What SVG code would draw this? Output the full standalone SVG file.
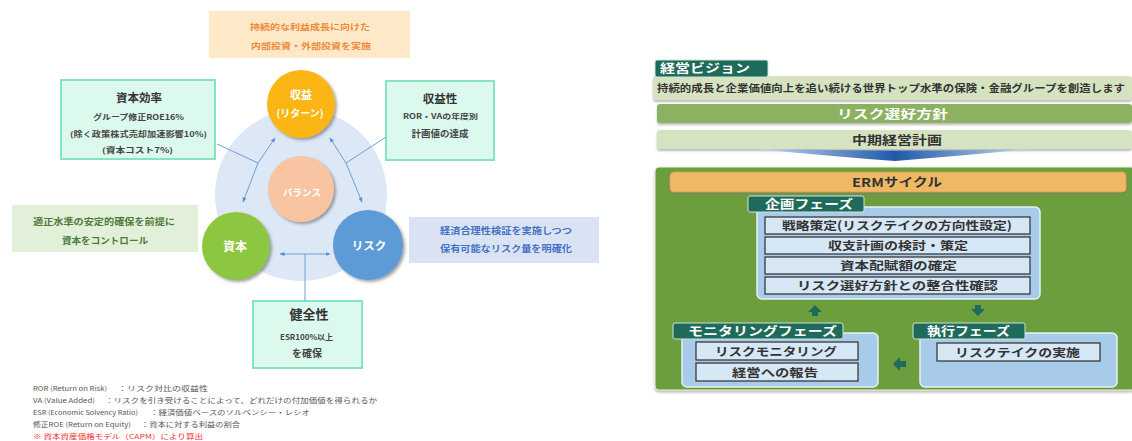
<svg xmlns="http://www.w3.org/2000/svg" width="1132" height="441" viewBox="0 0 1132 441">
<style>
text{font-family:"Noto Sans CJK JP","Noto Sans",sans-serif;}
.c{text-anchor:middle;}
.b{font-weight:bold;}
.aq{fill:#dcf9ee;stroke:#86e3c6;stroke-width:2;}
.ln{stroke:#6f9fd8;stroke-width:1;fill:none;}
.tab{fill:#1f6b5b;stroke:#cfe3d8;stroke-width:1;}
.tabt{fill:#fff;font-size:12px;font-weight:bold;}
.item{fill:#d6e7f6;stroke:#3a3a3a;stroke-width:1.3;}
.itemt{fill:#333;font-size:11.5px;font-weight:bold;}
.panel{fill:#a9cbea;stroke:#e6f0f8;stroke-width:1.5;}
.fn{font-size:6.5px;fill:#555;}
</style>
<defs>
<filter id="sh" x="-30%" y="-30%" width="160%" height="160%">
<feDropShadow dx="2" dy="2" stdDeviation="1.5" flood-color="#555" flood-opacity="0.55"/>
</filter>
<filter id="sh2" x="-10%" y="-20%" width="120%" height="150%">
<feDropShadow dx="0" dy="2" stdDeviation="1.2" flood-color="#777" flood-opacity="0.5"/>
</filter>
<marker id="ah" viewBox="0 0 10 10" refX="9" refY="5" markerWidth="5" markerHeight="5" orient="auto">
<path d="M0,1 L10,5 L0,9 Z" fill="#5b8fd0"/>
</marker>
<linearGradient id="chev" x1="0" y1="0" x2="1" y2="0">
<stop offset="0" stop-color="#c9d9ee"/>
<stop offset="0.5" stop-color="#1f5aa8"/>
<stop offset="1" stop-color="#c9d9ee"/>
</linearGradient>
</defs>
<rect width="1132" height="441" fill="#fff"/>

<!-- LEFT DIAGRAM -->
<g id="bg-circle"><circle cx="301" cy="195" r="86" fill="#dce8f5"/></g>

<g id="top-note">
<rect x="209" y="11" width="201" height="47" fill="#fde9c8"/>
<text x="250" y="30" class="b" font-size="8.5" fill="#f08a3c" textLength="120" lengthAdjust="spacingAndGlyphs">持続的な利益成長に向けた</text>
<text x="251" y="49" class="b" font-size="8.5" fill="#f08a3c" textLength="120" lengthAdjust="spacingAndGlyphs">内部投資・外部投資を実施</text>
</g>

<g id="capital-efficiency">
<rect x="61" y="80" width="154" height="79" class="aq"/>
<text x="139" y="102" class="c b" font-size="11.5" fill="#333">資本効率</text>
<text x="93" y="120" class="b" font-size="7.5" fill="#444" textLength="91" lengthAdjust="spacingAndGlyphs">グループ修正ROE16%</text>
<text x="70" y="137" class="b" font-size="7.5" fill="#444" textLength="137" lengthAdjust="spacingAndGlyphs">(除く政策株式売却加速影響10%)</text>
<text x="102" y="153" class="b" font-size="7.5" fill="#444" textLength="71" lengthAdjust="spacingAndGlyphs">(資本コスト7%)</text>
</g>

<g id="profitability">
<rect x="386" y="81" width="108" height="79" class="aq"/>
<text x="440" y="103" class="c b" font-size="11.5" fill="#333">収益性</text>
<text x="403" y="119" class="b" font-size="7" fill="#444" textLength="75" lengthAdjust="spacingAndGlyphs">ROR・VAの年度別</text>
<text x="440" y="137" class="c b" font-size="9.5" fill="#444">計画値の達成</text>
</g>

<g id="soundness">
<rect x="253" y="301" width="109" height="67" class="aq"/>
<text x="309" y="319" class="c b" font-size="13" fill="#333">健全性</text>
<text x="280" y="340" class="b" font-size="7.5" fill="#444" textLength="53" lengthAdjust="spacingAndGlyphs">ESR100%以上</text>
<text x="307" y="357" class="c b" font-size="10" fill="#444">を確保</text>
</g>

<g id="capital-note">
<rect x="12" y="205" width="186" height="47" fill="#e2efd9"/>
<text x="33" y="225" class="b" font-size="9" fill="#4e7a3c" textLength="142" lengthAdjust="spacingAndGlyphs">適正水準の安定的確保を前提に</text>
<text x="62" y="244" class="b" font-size="9" fill="#4e7a3c" textLength="86" lengthAdjust="spacingAndGlyphs">資本をコントロール</text>
</g>

<g id="risk-note">
<rect x="409" y="217" width="190" height="46" fill="#dae3f3"/>
<text x="440" y="234" class="b" font-size="9" fill="#4472c4" textLength="132" lengthAdjust="spacingAndGlyphs">経済合理性検証を実施しつつ</text>
<text x="440" y="252" class="b" font-size="9" fill="#4472c4" textLength="132" lengthAdjust="spacingAndGlyphs">保有可能なリスク量を明確化</text>
</g>

<g id="connectors">
<polyline class="ln" points="217,144 258,163"/>
<line class="ln" x1="258" y1="163" x2="275" y2="138" marker-end="url(#ah)"/>
<line class="ln" x1="258" y1="163" x2="243" y2="202" marker-end="url(#ah)"/>
<polyline class="ln" points="386,137 346,163"/>
<line class="ln" x1="346" y1="163" x2="330" y2="138" marker-end="url(#ah)"/>
<line class="ln" x1="346" y1="163" x2="362" y2="202" marker-end="url(#ah)"/>
<line class="ln" x1="305" y1="301" x2="305" y2="254"/>
<line class="ln" x1="305" y1="254" x2="280" y2="254" marker-end="url(#ah)"/>
<line class="ln" x1="305" y1="254" x2="330" y2="254" marker-end="url(#ah)"/>
</g>

<g id="return">
<circle cx="301" cy="104" r="34" fill="#fbb616" filter="url(#sh)"/>
<text x="301" y="99" class="c b" font-size="11" fill="#fff">収益</text>
<text x="300" y="117" class="c b" font-size="10" fill="#fff">(リターン)</text>
</g>
<g id="balance">
<circle cx="301" cy="189" r="33" fill="#f8c4a2" filter="url(#sh)"/>
<text x="302" y="196" class="c b" font-size="9.5" fill="#fff">バランス</text>
</g>
<g id="capital">
<circle cx="236" cy="246" r="34" fill="#8dc63f" filter="url(#sh)"/>
<text x="235" y="251" class="c b" font-size="12" fill="#fff">資本</text>
</g>
<g id="risk">
<circle cx="368" cy="245" r="35" fill="#5b9bd5" filter="url(#sh)"/>
<text x="369" y="250" class="c b" font-size="11.5" fill="#fff">リスク</text>
</g>

<g id="footnotes">
<text x="33" y="391" class="fn" textLength="74" lengthAdjust="spacingAndGlyphs">ROR (Return on Risk)</text>
<text x="118" y="391" class="fn" textLength="90" lengthAdjust="spacingAndGlyphs">：リスク対比の収益性</text>
<text x="33" y="403" class="fn" textLength="62" lengthAdjust="spacingAndGlyphs">VA (Value Added)</text>
<text x="105" y="403" class="fn" textLength="272" lengthAdjust="spacingAndGlyphs">：リスクを引き受けることによって、どれだけの付加価値を得られるか</text>
<text x="33" y="415" class="fn" textLength="105" lengthAdjust="spacingAndGlyphs">ESR (Economic Solvency Ratio)</text>
<text x="150" y="415" class="fn" textLength="160" lengthAdjust="spacingAndGlyphs">：経済価値ベースのソルベンシー・レシオ</text>
<text x="33" y="427" class="fn" textLength="98" lengthAdjust="spacingAndGlyphs">修正ROE (Return on Equity)</text>
<text x="141" y="427" class="fn" textLength="99" lengthAdjust="spacingAndGlyphs">：資本に対する利益の割合</text>
<text x="33" y="439" class="fn" style="fill:#f03030" textLength="170" lengthAdjust="spacingAndGlyphs">※ 資本資産価格モデル（CAPM）により算出</text>
</g>

<!-- RIGHT DIAGRAM -->
<g id="vision">
<rect x="653" y="76" width="479" height="24" rx="3" fill="#d5e3c1" filter="url(#sh2)"/>
<text x="657" y="92" font-size="10" class="b" fill="#333" textLength="468" lengthAdjust="spacingAndGlyphs">持続的成長と企業価値向上を追い続ける世界トップ水準の保険・金融グループを創造します</text>
<rect x="655" y="60" width="113" height="17" rx="2" class="tab"/>
<text x="660" y="73" class="tabt" textLength="90" lengthAdjust="spacingAndGlyphs">経営ビジョン</text>
</g>
<g id="risk-appetite">
<rect x="657" y="104" width="475" height="19" rx="3" fill="#8cb161" filter="url(#sh2)"/>
<text x="837" y="118.5" class="b" font-size="12" fill="#fff" textLength="111" lengthAdjust="spacingAndGlyphs">リスク選好方針</text>
</g>
<g id="midterm-plan">
<rect x="657" y="130" width="475" height="19" rx="3" fill="#d5e3c1" filter="url(#sh2)"/>
<text x="852" y="144.5" class="b" font-size="12" fill="#333" textLength="90" lengthAdjust="spacingAndGlyphs">中期経営計画</text>
</g>
<g id="chevron">
<path d="M758,149 Q895,152 1032,149 Q960,156 895,161 Q830,156 758,149 Z" fill="url(#chev)"/>
</g>

<g id="erm-frame">
<rect x="655" y="167" width="480" height="223" rx="4" fill="#6c9e3c" stroke="#e8efe0" stroke-width="1" filter="url(#sh2)"/>
<rect x="670" y="172" width="456" height="20" rx="4" fill="#f0b865" stroke="#d79e50" stroke-width="0.8" filter="url(#sh2)"/>
<text x="852" y="186.5" class="b" font-size="12" fill="#333" textLength="90" lengthAdjust="spacingAndGlyphs">ERMサイクル</text>
</g>

<g id="planning-phase">
<rect x="757" y="207" width="283" height="92" rx="5" class="panel"/>
<rect x="748" y="196" width="116" height="16" rx="2" class="tab"/>
<text x="765" y="209" class="tabt" textLength="88" lengthAdjust="spacingAndGlyphs">企画フェーズ</text>
<rect x="765" y="217" width="265" height="17" class="item"/>
<text x="782" y="230" class="itemt" textLength="230" lengthAdjust="spacingAndGlyphs">戦略策定(リスクテイクの方向性設定)</text>
<rect x="765" y="237" width="265" height="17" class="item"/>
<text x="828" y="250" class="itemt" textLength="140" lengthAdjust="spacingAndGlyphs">収支計画の検討・策定</text>
<rect x="765" y="257" width="265" height="17" class="item"/>
<text x="840" y="270" class="itemt" textLength="117" lengthAdjust="spacingAndGlyphs">資本配賦額の確定</text>
<rect x="765" y="277" width="265" height="17" class="item"/>
<text x="797" y="290" class="itemt" textLength="201" lengthAdjust="spacingAndGlyphs">リスク選好方針との整合性確認</text>
</g>

<g id="monitoring-phase">
<rect x="682" y="333" width="196" height="54" rx="5" class="panel"/>
<rect x="673" y="323" width="170" height="16" rx="2" class="tab"/>
<text x="688" y="336" class="tabt" textLength="149" lengthAdjust="spacingAndGlyphs">モニタリングフェーズ</text>
<rect x="696" y="342" width="162" height="18" class="item"/>
<text x="715" y="355.5" class="itemt" textLength="122" lengthAdjust="spacingAndGlyphs">リスクモニタリング</text>
<rect x="696" y="363" width="162" height="18" class="item"/>
<text x="732" y="376.5" class="itemt" textLength="86" lengthAdjust="spacingAndGlyphs">経営への報告</text>
</g>

<g id="execution-phase">
<rect x="920" y="333" width="197" height="54" rx="5" class="panel"/>
<rect x="913" y="323" width="112" height="16" rx="2" class="tab"/>
<text x="927" y="336" class="tabt" textLength="83" lengthAdjust="spacingAndGlyphs">執行フェーズ</text>
<rect x="937" y="343" width="163" height="18" class="item"/>
<text x="955" y="356.5" class="itemt" textLength="125" lengthAdjust="spacingAndGlyphs">リスクテイクの実施</text>
</g>

<g id="cycle-arrows" fill="#1f6b5b">
<path d="M808,312 L815,305 L822,312 L818,312 L818,316 L812,316 L812,312 Z"/>
<path d="M971,309 L985,309 L978,316 Z M975,305 L981,305 L981,309 L975,309 Z"/>
<path d="M893,364 L900,357 L900,361 L906,361 L906,367 L900,367 L900,371 Z"/>
</g>
</svg>
